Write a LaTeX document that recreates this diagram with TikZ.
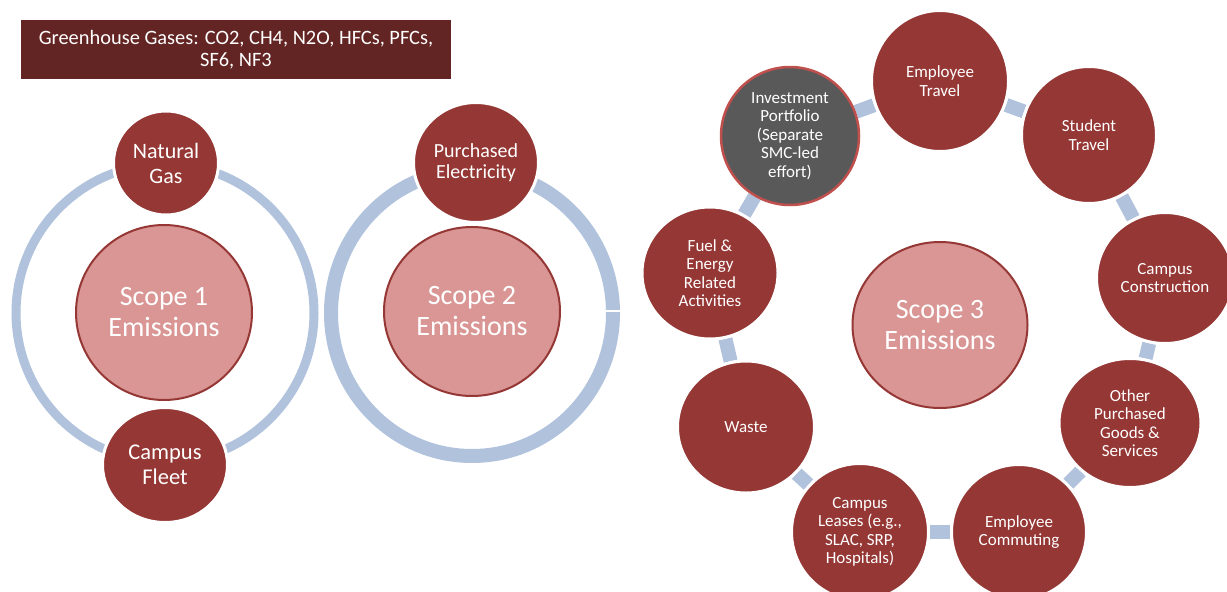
\documentclass[tikz,border=0pt]{standalone}
\usepackage{fontspec}
\setmainfont{Carlito}
\usetikzlibrary{shapes.geometric,backgrounds}
\definecolor{nodered}{HTML}{953735}
\definecolor{pinkfill}{HTML}{D99694}
\definecolor{headerfill}{HTML}{632523}
\definecolor{ringblue}{HTML}{B1C2DD}
\definecolor{graynode}{HTML}{595959}
\definecolor{grayedge}{HTML}{C0504D}
\begin{document}
\begin{tikzpicture}[x=1pt,y=-1pt,
  redbub/.style={ellipse, fill=nodered, draw=white, line width=3pt, text=white,
    align=center, inner sep=0pt, font=\fontsize{17}{18.5}\selectfont},
  graybub/.style={redbub, fill=graynode, draw=grayedge, line width=2.5pt},
  scopebub/.style={ellipse, fill=pinkfill, draw=nodered, line width=2pt, text=white,
    align=center, inner sep=0pt, font=\fontsize{28}{31}\selectfont},
  sz/.style 2 args={minimum width=#1pt, minimum height=#2pt},
  ringseg/.style={draw=ringblue, line width=14pt},
  headbox/.style={rectangle, fill=headerfill, text=white, align=center,
    inner sep=0pt, minimum width=430pt, minimum height=59pt,
    font=\fontsize{20.4}{21.5}\selectfont},
]
\useasboundingbox (0,0) rectangle (1227,592);

% header
\node[headbox] (head) at (236,49.5) {Greenhouse Gases: CO2, CH4, N2O, HFCs, PFCs,\\SF6, NF3};

% ---------- Scope 1 ----------
\coordinate (c1) at (165,313);
\draw[draw=ringblue, line width=9pt] (c1) circle [radius=149];
\node[scopebub, sz={176}{175}] (s1) at (164,312.5) {Scope 1\\Emissions};
\node[redbub, sz={105}{104}, font=\fontsize{22}{25}\selectfont] (gas) at (166,163) {Natural\\Gas};
\node[redbub, sz={125}{115}, font=\fontsize{22.5}{24.5}\selectfont] (fleet) at (165,465) {Campus\\Fleet};

% ---------- Scope 2 ----------
\coordinate (c2) at (472,313);
\draw[draw=ringblue, line width=14pt] (c2) ellipse [x radius=141, y radius=143];
\draw[white, line width=1.5pt] (603,311) -- (625,311);
\node[scopebub, sz={176}{169}] (s2) at (472,311.5) {Scope 2\\Emissions};
\node[redbub, sz={125}{120}, font=\fontsize{20}{21.5}\selectfont] (elec) at (476,162.5) {Purchased\\Electricity};

% ---------- Scope 3 ----------
\node[scopebub, sz={175}{166}] (s3) at (940,325) {Scope 3\\Emissions};
\node[graybub, sz={138}{138}] (inv) at (790,136) {Investment\\Portfolio\\(Separate\\SMC-led\\effort)};
\node[redbub, sz={137}{141}] (etr) at (940,81) {Employee\\Travel};
\node[redbub, sz={135}{137}] (str) at (1089,135) {Student\\Travel};
\node[redbub, sz={137}{131}] (con) at (1165,278) {Campus\\Construction};
\node[redbub, sz={142}{129}] (oth) at (1130,423) {Other\\Purchased\\Goods \&\\Services};
\node[redbub, sz={135}{135}] (com) at (1019,532) {Employee\\Commuting};
\node[redbub, sz={137}{137}] (lea) at (860,532) {Campus\\Leases (e.g.,\\SLAC, SRP,\\Hospitals)};
\node[redbub, sz={137}{132}] (was) at (746,427) {Waste};
\node[redbub, sz={136}{132}] (fue) at (710,273) {Fuel \&\\Energy\\Related\\Activities};

\begin{scope}[on background layer]
  \fill[white] (0,0) rectangle (1227,592);
  \draw[ringseg] (inv) -- (etr);
  \draw[ringseg] (etr) -- (str);
  \draw[ringseg] (str) -- (con);
  \draw[ringseg] (con) -- (oth);
  \draw[ringseg] (oth) -- (com);
  \draw[ringseg] (com) -- (lea);
  \draw[ringseg] (lea) -- (was);
  \draw[ringseg] (was) -- (fue);
  \draw[ringseg] (fue) -- (inv);
\end{scope}
\end{tikzpicture}
\end{document}
